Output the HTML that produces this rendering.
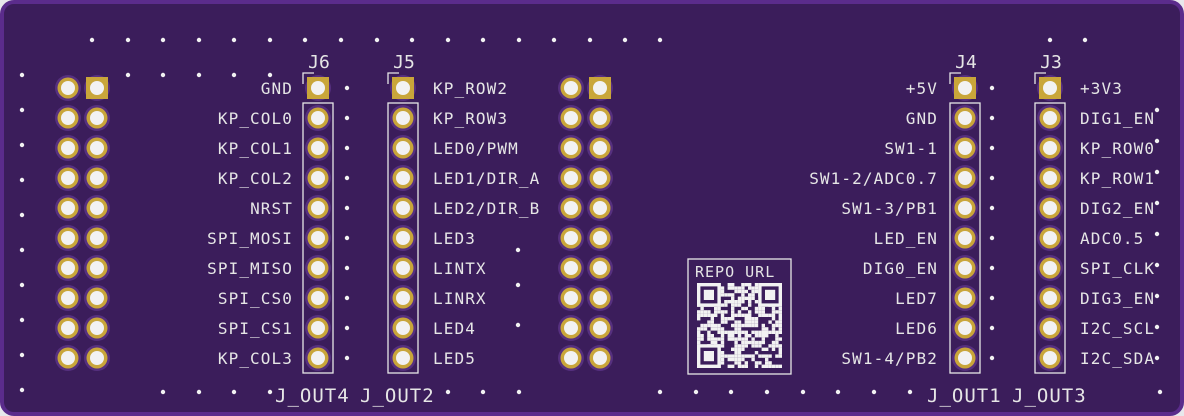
<!DOCTYPE html>
<html><head><meta charset="utf-8">
<style>
html,body{margin:0;padding:0;background:#e8e8ec;}
svg{display:block}
text{font-family:"DejaVu Sans Mono","Liberation Mono",monospace;fill:#e6e6e6;font-size:16px;letter-spacing:1.1px;}
</style></head><body>
<svg id="s" width="1184" height="416" viewBox="0 0 1184 416" xmlns="http://www.w3.org/2000/svg">
<rect x="2" y="2" width="1180" height="412" rx="12" fill="#3b1d5b" stroke="#5b2c8c" stroke-width="4"/>
<g id="g"></g>
<g text-anchor="end">
<text x="293" y="94">GND</text>
<text x="293" y="124">KP_COL0</text>
<text x="293" y="154">KP_COL1</text>
<text x="293" y="184">KP_COL2</text>
<text x="293" y="214">NRST</text>
<text x="293" y="244">SPI_MOSI</text>
<text x="293" y="274">SPI_MISO</text>
<text x="293" y="304">SPI_CS0</text>
<text x="293" y="334">SPI_CS1</text>
<text x="293" y="364">KP_COL3</text>
<text x="938" y="94">+5V</text>
<text x="938" y="124">GND</text>
<text x="938" y="154">SW1-1</text>
<text x="938" y="184">SW1-2/ADC0.7</text>
<text x="938" y="214">SW1-3/PB1</text>
<text x="938" y="244">LED_EN</text>
<text x="938" y="274">DIG0_EN</text>
<text x="938" y="304">LED7</text>
<text x="938" y="334">LED6</text>
<text x="938" y="364">SW1-4/PB2</text>
</g>
<g>
<text x="433" y="94">KP_ROW2</text>
<text x="433" y="124">KP_ROW3</text>
<text x="433" y="154">LED0/PWM</text>
<text x="433" y="184">LED1/DIR_A</text>
<text x="433" y="214">LED2/DIR_B</text>
<text x="433" y="244">LED3</text>
<text x="433" y="274">LINTX</text>
<text x="433" y="304">LINRX</text>
<text x="433" y="334">LED4</text>
<text x="433" y="364">LED5</text>
<text x="1080" y="94">+3V3</text>
<text x="1080" y="124">DIG1_EN</text>
<text x="1080" y="154">KP_ROW0</text>
<text x="1080" y="184">KP_ROW1</text>
<text x="1080" y="214">DIG2_EN</text>
<text x="1080" y="244">ADC0.5</text>
<text x="1080" y="274">SPI_CLK</text>
<text x="1080" y="304">DIG3_EN</text>
<text x="1080" y="334">I2C_SCL</text>
<text x="1080" y="364">I2C_SDA</text>
</g>
<g>
<text x="319" y="68" text-anchor="middle" style="font-size:18px;letter-spacing:0">J6</text>
<text x="404" y="68" text-anchor="middle" style="font-size:18px;letter-spacing:0">J5</text>
<text x="966" y="68" text-anchor="middle" style="font-size:18px;letter-spacing:0">J4</text>
<text x="1051" y="68" text-anchor="middle" style="font-size:18px;letter-spacing:0">J3</text>
<text x="275" y="402" style="font-size:19px;letter-spacing:1px">J_OUT4</text>
<text x="360" y="402" style="font-size:19px;letter-spacing:1px">J_OUT2</text>
<text x="927" y="402" style="font-size:19px;letter-spacing:1px">J_OUT1</text>
<text x="1012" y="402" style="font-size:19px;letter-spacing:1px">J_OUT3</text>
</g>
<rect x="688" y="259" width="103" height="115" fill="none" stroke="#e6e6e6" stroke-width="1.3"/>
<text x="695" y="277" style="font-size:15px;letter-spacing:1px">REPO URL</text>
<g id="qr"></g>
</svg>
<script>
var NS="http://www.w3.org/2000/svg",g=document.getElementById("g");
function el(t,a){var e=document.createElementNS(NS,t);for(var k in a)e.setAttribute(k,a[k]);g.appendChild(e);return e;}
var W="#f2f2f2",GOLD="#c9a63a",HALO="#56307f",SILK="#e6e6e6";
[318,403,965,1050].forEach(function(x){
 el("rect",{x:x-15,y:103,width:30,height:270,fill:"none",stroke:SILK,"stroke-width":1.3});
 el("path",{d:"M"+(x-15)+" 84 V73 H"+(x-4),fill:"none",stroke:SILK,"stroke-width":1.3});
});
function pad(x,y,sq){
 el("circle",{cx:x,cy:y,r:13,fill:HALO});
 if(sq)el("rect",{x:x-11,y:y-11,width:22,height:22,fill:GOLD});
 else el("circle",{cx:x,cy:y,r:10.5,fill:GOLD});
 el("circle",{cx:x,cy:y,r:7,fill:W});
}
var cols=[68,97,318,403,571,600,965,1050];
cols.forEach(function(x){for(var i=0;i<10;i++){var y=88+30*i;
 var sq=(i==0&&(x==97||x==318||x==403||x==600||x==965||x==1050));pad(x,y,sq);}});
function dot(x,y){el("circle",{cx:x,cy:y,r:2.2,fill:W});}
[92,128,163,199,234,270,305,341,377,412,448,483,519,554,590,625,660,1050,1085].forEach(function(x){dot(x,40);});
[22,128,163,199,234,270].forEach(function(x){dot(x,75);});
for(var i=0;i<9;i++)dot(22,110+35*i);
for(var i=0;i<10;i++){dot(347,88+30*i);dot(992,88+30*i);}
[250,285,325].forEach(function(y){dot(518,y);});
for(var i=0;i<9;i++)dot(1157,110+31*i);
[163,199,234,270,448,483,519,660,696,731,767,803,838,874,910,1160].forEach(function(x){dot(x,392);});
var q=document.getElementById("qr");
function r(x,y,w,h,f){var e=document.createElementNS(NS,"rect");e.setAttribute("x",x);e.setAttribute("y",y);e.setAttribute("width",w);e.setAttribute("height",h);e.setAttribute("fill",f);q.appendChild(e);}
var ox=697,oy=283,c=3.4,n=25,seed=7;
function rnd(){seed=(seed*9301+49297)%233280;return seed/233280;}
for(var yy=0;yy<n;yy++)for(var xx=0;xx<n;xx++){if(rnd()<0.55)r(ox+xx*c,oy+yy*c,c,c,W);}
[[0,0],[18,0],[0,18]].forEach(function(p){var x=ox+p[0]*c,y=oy+p[1]*c;r(x,y,7*c,7*c,W);r(x+c,y+c,5*c,5*c,"#3b1d5b");r(x+2*c,y+2*c,3*c,3*c,W);});
</script>
</body></html>
